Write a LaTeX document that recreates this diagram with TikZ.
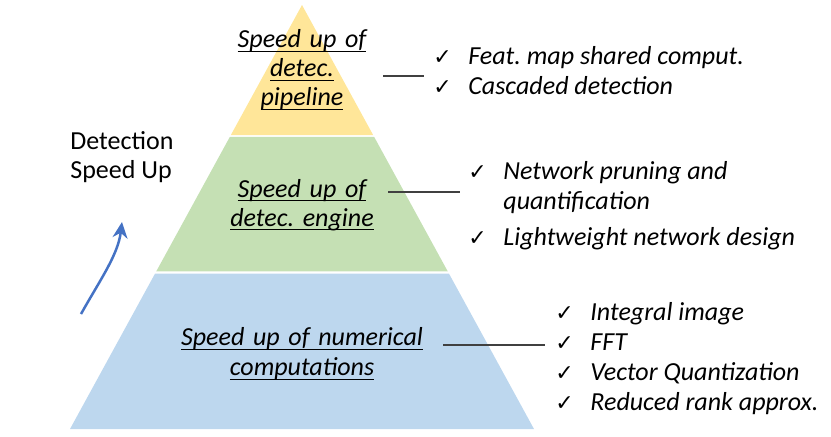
\documentclass[tikz,border=0pt]{standalone}
\usepackage{fontspec}
\setmainfont{Carlito}
\newfontfamily\symfont{DejaVu Sans}
\usepackage{tikz}
\usetikzlibrary{arrows.meta,positioning,calc}
\frenchspacing
\definecolor{tiergold}{HTML}{FFE699}
\definecolor{tiergreen}{HTML}{C5E0B4}
\definecolor{tierblue}{HTML}{BDD7EE}
\definecolor{arrowblue}{HTML}{4472C4}
\newsavebox{\tierbox}
\newcommand{\chk}{\makebox[17.5pt][l]{\upshape\symfont\fontsize{11}{11}\selectfont ✓}}
\newcommand{\tierul}[1]{\leavevmode\hbox{\sbox{\tierbox}{#1}\rlap{\rule[-1.95pt]{\wd\tierbox}{0.6pt}}\usebox{\tierbox}}}

\begin{document}
\begin{tikzpicture}[
			x=0.5pt, y=-0.5pt,
			tierlab/.style={inner sep=0pt, align=center, font=\itshape\fontsize{13}{14.5}\selectfont},
			checklist/.style={inner sep=0pt, align=left, anchor=north west, font=\itshape\fontsize{13}{15}\selectfont},
			conn/.style={draw=black!75, line width=0.6pt},
			speedarr/.style={-{Stealth[length=8pt,width=7.5pt]}, line width=1.25pt, draw=arrowblue}
			]
			\useasboundingbox (0,0) rectangle (831,436);
			
			% Pyramid corners
			\coordinate (apex) at (302,5);
			\coordinate (bl) at (70,429);
			\coordinate (br) at (534,429);
			
			% Tiers
			\fill[tiergold] (apex) -- ($(apex)!0.3066!(br)$) -- ($(apex)!0.3066!(bl)$) -- cycle;
			\fill[tiergreen] ($(apex)!0.3113!(bl)$) -- ($(apex)!0.3113!(br)$) -- ($(apex)!0.6285!(br)$) -- ($(apex)!0.6285!(bl)$) -- cycle;
			\fill[tierblue] ($(apex)!0.6333!(bl)$) -- ($(apex)!0.6333!(br)$) -- (br) -- (bl) -- cycle;
			
			% Tier labels
			\node[tierlab, text width=70pt] (lab1) at (302,70) {\tierul{Speed up of}\\\tierul{detec.}\\\tierul{pipeline}};
			\node[tierlab, text width=75pt] (lab2) at (302,205) {\tierul{Speed up of}\\\tierul{detec. engine}};
			\node[tierlab, text width=125pt, font=\itshape\fontsize{13}{15}\selectfont] (lab3) at (302,354) {\tierul{Speed up of numerical}\\\tierul{computations}};
			
			% Method lists
			\node[checklist] (list1) at (433,46) {\chk Feat. map shared comput.\\\chk Cascaded detection};
			\node[checklist] (list2) at (468,161) {\chk Network pruning and\\\hspace*{17.5pt}quantification\\[3pt]\chk Lightweight network design};
			\node[checklist] (list3) at (555,302) {\chk Integral image\\\chk FFT\\\chk Vector Quantization\\\chk Reduced rank approx.};
			
			% Connectors
			\draw[conn] ($(lab1.east)+(11,6)$) -- ($(lab1.east -| list1.west)+(-9,6)$);
			\draw[conn] ($(lab2.east)+(11,-13)$) -- ($(lab2.east -| list2.west)+(-8,-13)$);
			\draw[conn] ($(lab3.east)+(16,-9)$) -- ($(lab3.east -| list3.west)+(-10,-9)$);
			
			% Speed up axis
			\node[inner sep=0pt, align=left, anchor=north west, font=\fontsize{13}{14.5}\selectfont] (speedlab) at (70,131) {Detection\\Speed Up};
			\coordinate (arrtail) at (81,314);
			\coordinate (arrhead) at (122,222);
			\draw[speedarr] (arrtail) .. controls (100,280) and (118,255) .. (arrhead);
			
		\end{tikzpicture}
\end{document}
